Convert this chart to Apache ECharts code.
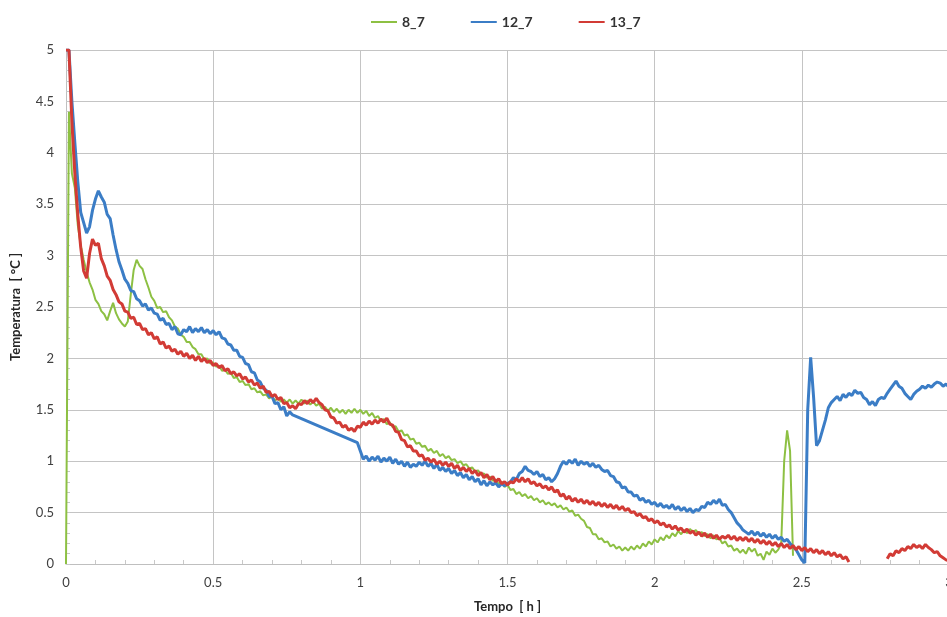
<!DOCTYPE html>
<html>
<head>
<meta charset="utf-8">
<script src="https://cdn.jsdelivr.net/npm/echarts@6/dist/echarts.min.js"></script>
<style>
html,body{margin:0;padding:0;background:#fff;}
#chart{width:947px;height:617px;}
</style>
</head>
<body>
<div id="chart"></div>
<script>
// Sampling grid: hours, step 0.01 from 0 to 3
const tempoInicio = 0;
const tempoPasso = 0.01;
const tempoPontos = 301;

const nomes = ['8_7', '12_7', '13_7'];

// 8_7 (green)
const serie8_7 = [
 0, 4.4, 3.8, 3.66, 3.3, 3.1, 2.96, 2.84, 2.74, 2.67,
 2.57, 2.53, 2.46, 2.43, 2.37, 2.46, 2.54, 2.44, 2.38, 2.34,
 2.31, 2.36, 2.62, 2.86, 2.96, 2.9, 2.87, 2.77, 2.69, 2.6,
 2.56, 2.49, 2.5, 2.45, 2.46, 2.4, 2.37, 2.31, 2.29, 2.23,
 2.21, 2.16, 2.16, 2.11, 2.09, 2.04, 2.04, 1.99, 2.0, 1.95,
 1.96, 1.92, 1.93, 1.88, 1.89, 1.85, 1.86, 1.81, 1.82, 1.77,
 1.78, 1.74, 1.75, 1.7, 1.71, 1.67, 1.68, 1.64, 1.65, 1.61,
 1.63, 1.59, 1.61, 1.58, 1.6, 1.57, 1.6, 1.56, 1.59, 1.56,
 1.6, 1.56, 1.59, 1.55, 1.58, 1.54, 1.56, 1.51, 1.53, 1.49,
 1.52, 1.48, 1.51, 1.47, 1.5, 1.46, 1.5, 1.47, 1.51, 1.47,
 1.5, 1.46, 1.49, 1.44, 1.47, 1.42, 1.44, 1.39, 1.41, 1.36,
 1.38, 1.33, 1.34, 1.29, 1.3, 1.25, 1.26, 1.21, 1.22, 1.17,
 1.18, 1.14, 1.15, 1.1, 1.12, 1.08, 1.1, 1.05, 1.07, 1.03,
 1.05, 1.01, 1.02, 0.98, 1.0, 0.96, 0.97, 0.93, 0.94, 0.9,
 0.91, 0.87, 0.88, 0.84, 0.85, 0.81, 0.82, 0.78, 0.8, 0.75,
 0.77, 0.72, 0.73, 0.68, 0.7, 0.66, 0.68, 0.64, 0.66, 0.62,
 0.64, 0.6, 0.62, 0.58, 0.6, 0.57, 0.59, 0.55, 0.57, 0.53,
 0.55, 0.51, 0.52, 0.47, 0.48, 0.44, 0.42, 0.36, 0.35, 0.29,
 0.29, 0.24, 0.25, 0.21, 0.22, 0.17, 0.19, 0.15, 0.17, 0.13,
 0.16, 0.13, 0.17, 0.14, 0.18, 0.15, 0.2, 0.17, 0.22, 0.19,
 0.24, 0.21, 0.26, 0.23, 0.28, 0.25, 0.3, 0.27, 0.32, 0.29,
 0.33, 0.3, 0.34, 0.31, 0.33, 0.29, 0.31, 0.27, 0.29, 0.25,
 0.28, 0.24, 0.25, 0.2, 0.22, 0.17, 0.18, 0.13, 0.15, 0.11,
 0.14, 0.1, 0.16, 0.12, 0.15, 0.08, 0.1, 0.04, 0.12, 0.09,
 0.15, 0.11, 0.14, 0.2, 1.0, 1.3, 1.1, 0.08, null, null,
 null, null, null, null, null, null, null, null, null, null,
 null, null, null, null, null, null, null, null, null, null,
 null, null, null, null, null, null, null, null, null, null,
 null, null, null, null, null, null, null, null, null, null,
 null, null, null, null, null, null, null, null, null, null,
 null
];

// 12_7 (blue)
const serie12_7 = [
 5.0, 5.0, 4.5, 4.1, 3.72, 3.42, 3.32, 3.22, 3.28, 3.44,
 3.55, 3.63, 3.57, 3.52, 3.4, 3.36, 3.2, 3.06, 2.94, 2.86,
 2.77, 2.73, 2.66, 2.65, 2.58, 2.56, 2.51, 2.53, 2.47, 2.49,
 2.44, 2.43, 2.37, 2.39, 2.33, 2.34, 2.28, 2.31, 2.24, 2.23,
 2.28, 2.26, 2.31, 2.25, 2.29, 2.26, 2.3, 2.25, 2.28, 2.24,
 2.27, 2.23, 2.26, 2.2, 2.19, 2.14, 2.13, 2.08, 2.08, 2.02,
 2.01, 1.95, 1.94, 1.87, 1.86, 1.79, 1.77, 1.71, 1.69, 1.63,
 1.63, 1.56, 1.57, 1.5, 1.53, 1.44, 1.48, 1.45, null, null,
 null, null, null, null, null, null, null, null, null, null,
 null, null, null, null, null, null, null, null, null, 1.18,
 1.1, 1.02, 1.05, 1.0, 1.04, 1.01, 1.05, 0.99, 1.03, 1.0,
 1.04, 0.98, 1.02, 0.97, 1.0, 0.95, 0.99, 0.94, 0.97, 0.95,
 0.99, 0.96, 1.0, 0.95, 0.98, 0.93, 0.97, 0.91, 0.94, 0.9,
 0.93, 0.88, 0.91, 0.86, 0.89, 0.84, 0.87, 0.82, 0.85, 0.8,
 0.83, 0.77, 0.81, 0.76, 0.8, 0.77, 0.79, 0.75, 0.78, 0.76,
 0.78, 0.8, 0.84, 0.82, 0.88, 0.9, 0.95, 0.91, 0.9, 0.87,
 0.9, 0.85, 0.87, 0.82, 0.84, 0.8, 0.83, 0.88, 0.95, 1.0,
 0.97, 1.01, 0.98, 1.02, 0.96, 1.0, 0.97, 0.99, 0.95, 0.98,
 0.94, 0.96, 0.92, 0.9, 0.91, 0.86, 0.85, 0.8, 0.79, 0.74,
 0.75, 0.7, 0.7, 0.66, 0.67, 0.62, 0.64, 0.6, 0.62, 0.58,
 0.6, 0.56, 0.59, 0.55, 0.57, 0.54, 0.58, 0.53, 0.56, 0.52,
 0.55, 0.51, 0.54, 0.5, 0.53, 0.52, 0.56, 0.55, 0.6, 0.58,
 0.62, 0.59, 0.63, 0.57, 0.58, 0.53, 0.5, 0.45, 0.4, 0.37,
 0.33, 0.31, 0.29, 0.32, 0.28, 0.31, 0.27, 0.3, 0.26, 0.29,
 0.25, 0.28, 0.24, 0.26, 0.22, 0.24, 0.2, 0.17, 0.14, 0.09,
 0.04, 0.01, 1.5, 2.01, 1.62, 1.15, 1.2, 1.3, 1.4, 1.52,
 1.57, 1.6, 1.63, 1.59, 1.65, 1.62, 1.66, 1.64, 1.69, 1.66,
 1.67, 1.62, 1.6, 1.55, 1.58, 1.54, 1.6, 1.62, 1.61, 1.66,
 1.7, 1.74, 1.78, 1.73, 1.71, 1.66, 1.63, 1.6, 1.65, 1.68,
 1.7, 1.73, 1.71, 1.74, 1.72, 1.75, 1.77, 1.76, 1.73, 1.75,
 1.72
];

// 13_7 (red)
const serie13_7 = [
 5.0, 5.0, 4.3, 3.8, 3.4, 3.08, 2.85, 2.78, 3.02, 3.16,
 3.1, 3.12, 2.97, 2.9, 2.8, 2.76, 2.67, 2.62, 2.55, 2.53,
 2.46, 2.45, 2.39, 2.4, 2.33, 2.34, 2.28, 2.29, 2.23, 2.25,
 2.19, 2.21, 2.14, 2.16, 2.1, 2.12, 2.07, 2.09, 2.04, 2.07,
 2.02, 2.05, 2.0, 2.03, 1.98, 2.02, 1.97, 2.0, 1.96, 1.98,
 1.93, 1.95, 1.91, 1.93, 1.88, 1.9, 1.85, 1.87, 1.83, 1.85,
 1.8, 1.82, 1.77, 1.79, 1.74, 1.76, 1.71, 1.73, 1.67, 1.68,
 1.63, 1.65, 1.6, 1.62, 1.56, 1.57, 1.52, 1.54, 1.51, 1.56,
 1.55, 1.59, 1.56, 1.6, 1.57, 1.61, 1.57, 1.55, 1.5, 1.49,
 1.43, 1.42, 1.37, 1.38, 1.33, 1.35, 1.3, 1.32, 1.29, 1.34,
 1.33, 1.38, 1.35, 1.39, 1.36, 1.4, 1.37, 1.41, 1.38, 1.42,
 1.36, 1.35, 1.29, 1.28, 1.21, 1.2, 1.14, 1.15, 1.1, 1.1,
 1.05, 1.06, 1.01, 1.03, 0.99, 1.02, 0.97, 1.0, 0.96, 0.99,
 0.95, 0.98, 0.93, 0.96, 0.91, 0.94, 0.9, 0.93, 0.88, 0.91,
 0.86, 0.89, 0.84, 0.87, 0.82, 0.85, 0.8, 0.83, 0.78, 0.8,
 0.77, 0.8, 0.79, 0.83, 0.8, 0.84, 0.8, 0.83, 0.78, 0.8,
 0.76, 0.78, 0.74, 0.76, 0.72, 0.75, 0.7, 0.72, 0.66, 0.68,
 0.63, 0.66, 0.61, 0.64, 0.6, 0.63, 0.59, 0.62, 0.58, 0.61,
 0.57, 0.6, 0.56, 0.59, 0.55, 0.58, 0.54, 0.57, 0.53, 0.56,
 0.52, 0.54, 0.5, 0.51, 0.47, 0.49, 0.45, 0.46, 0.42, 0.44,
 0.4, 0.42, 0.38, 0.4, 0.36, 0.38, 0.34, 0.37, 0.33, 0.35,
 0.31, 0.34, 0.3, 0.32, 0.28, 0.31, 0.27, 0.3, 0.26, 0.29,
 0.25, 0.28, 0.24, 0.27, 0.25, 0.28, 0.24, 0.27, 0.23, 0.26,
 0.23, 0.26, 0.22, 0.25, 0.21, 0.24, 0.2, 0.23, 0.19, 0.22,
 0.18, 0.21, 0.17, 0.2, 0.16, 0.19, 0.15, 0.18, 0.14, 0.17,
 0.13, 0.16, 0.12, 0.15, 0.11, 0.14, 0.1, 0.13, 0.09, 0.12,
 0.08, 0.11, 0.07, 0.09, 0.05, 0.07, 0.02, null, null, null,
 null, null, null, null, null, null, null, null, null, 0.05,
 0.1, 0.08, 0.13, 0.11, 0.15, 0.13, 0.17, 0.15, 0.19, 0.16,
 0.18, 0.15, 0.19, 0.16, 0.14, 0.11, 0.12, 0.08, 0.06, 0.04,
 0.03
];

const yTicks = [0, 0.5, 1, 1.5, 2, 2.5, 3, 3.5, 4, 4.5, 5];
const xTicks = [0, 0.5, 1, 1.5, 2, 2.5, 3];

const tempo = [];
for (let i = 0; i < tempoPontos; i++) tempo.push(+(tempoInicio + i * tempoPasso).toFixed(2));
const pares = v => tempo.map((t, i) => [t, v[i]]);

const cores = ['#8dc043', '#3b7dc6', '#d23b35'];
const fonte = 'Lato, "Liberation Sans", sans-serif';

const chart = echarts.init(document.getElementById('chart'), null, {renderer: 'canvas'});
chart.setOption({
  animation: false,
  backgroundColor: '#ffffff',
  textStyle: {fontFamily: fonte},
  legend: {
    data: nomes,
    left: 366,
    top: 10,
    icon: 'rect',
    itemWidth: 26,
    itemHeight: 2,
    itemGap: 46,
    textStyle: {fontFamily: fonte, fontWeight: 'bold', fontSize: 14, color: '#333333'}
  },
  grid: {left: 66, right: -2, top: 50, bottom: 53, containLabel: false, outerBoundsMode: 'none'},
  xAxis: {
    type: 'value', min: 0, max: 3, interval: 0.5,
    name: 'Tempo  [ h ]', nameLocation: 'middle', nameGap: 36,
    nameTextStyle: {fontFamily: fonte, fontWeight: 'bold', fontSize: 13, color: '#262626'},
    axisLine: {show: true, lineStyle: {color: '#bfbfbf', width: 1}},
    axisTick: {show: true, inside: true, length: 4, lineStyle: {color: '#c8c8c8'}},
    minorTick: {show: true, splitNumber: 5, length: 4, lineStyle: {color: '#c8c8c8'}},
    axisLabel: {fontFamily: fonte, fontSize: 13, color: '#404040', margin: 12,
      formatter: v => xTicks.includes(v) ? String(v) : ''},
    splitLine: {show: true, lineStyle: {color: '#c4c4c4', width: 1}}
  },
  yAxis: {
    type: 'value', min: 0, max: 5, interval: 0.5,
    name: 'Temperatura  [ °C ]', nameLocation: 'middle', nameGap: 44, nameRotate: 90,
    nameTextStyle: {fontFamily: fonte, fontWeight: 'bold', fontSize: 13, color: '#262626'},
    axisLine: {show: true, lineStyle: {color: '#bfbfbf', width: 1}},
    axisTick: {show: true, inside: true, length: 4, lineStyle: {color: '#c8c8c8'}},
    minorTick: {show: true, splitNumber: 5, length: 4, lineStyle: {color: '#c8c8c8'}},
    axisLabel: {fontFamily: fonte, fontSize: 13, color: '#404040', margin: 12,
      formatter: v => yTicks.includes(v) ? String(v) : ''},
    splitLine: {show: true, lineStyle: {color: '#c4c4c4', width: 1}}
  },
  series: [
    {name: nomes[0], type: 'line', data: pares(serie8_7), showSymbol: false, symbol: 'none',
     connectNulls: false, lineStyle: {color: cores[0], width: 2}, itemStyle: {color: cores[0]}, z: 2},
    {name: nomes[1], type: 'line', data: pares(serie12_7), showSymbol: false, symbol: 'none',
     connectNulls: true, lineStyle: {color: cores[1], width: 3}, itemStyle: {color: cores[1]}, z: 3},
    {name: nomes[2], type: 'line', data: pares(serie13_7), showSymbol: false, symbol: 'none',
     connectNulls: false, lineStyle: {color: cores[2], width: 3}, itemStyle: {color: cores[2]}, z: 4}
  ]
});
</script>
</body>
</html>
